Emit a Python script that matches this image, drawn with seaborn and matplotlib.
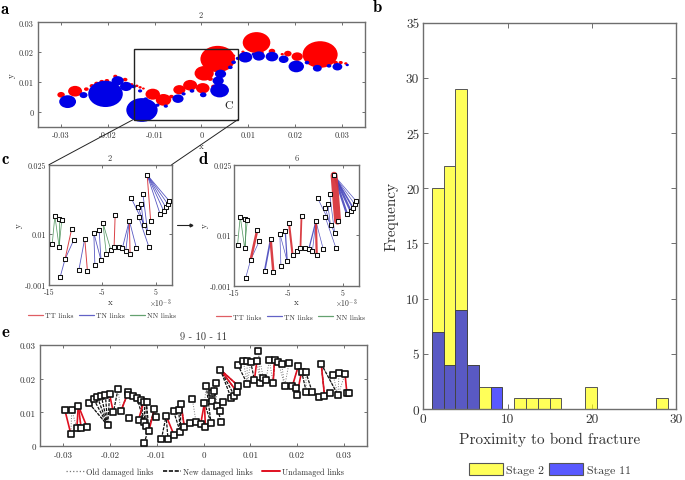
import numpy as np
import matplotlib
matplotlib.use("Agg")
import matplotlib.pyplot as plt
import seaborn as sns
from matplotlib.lines import Line2D
from matplotlib.patches import Ellipse, Rectangle, Patch

# ---------- panel a: bubbles (x, y, width; all in units of 1e-3) ----------
red_x = [-30.0,-27.0,-24.6,-23.4,-22.4,-21.3,-20.2,-18.4,-17.4,-16.3,-14.9,-13.8,-13.1,-12.4,-10.4,-8.1,-6.4,-4.7,-2.4,0.3,0.6,3.5,11.8,8.9,13.0,15.1,17.3,18.5,20.5,25.4,28.7,29.8,30.9,6.9,2.6,1.9]
red_y = [5.7,6.9,7.6,8.7,9.5,10.1,10.4,11.9,10.9,10.8,9.2,8.7,8.2,7.8,5.9,4.0,5.1,7.4,8.9,7.9,12.9,17.7,23.2,20.1,19.9,20.3,19.3,19.5,18.5,19.2,16.5,16.5,16.2,18.8,8.5,11.0]
red_w = [1.6,3.0,1.0,1.0,1.0,1.0,1.0,.9,.9,1.0,.7,.7,.7,.6,3.1,3.3,1.0,2.6,3.0,2.9,4.1,7.4,5.9,.7,.7,1.4,.7,1.6,2.4,7.5,1.0,.9,.7,.7,1.0,1.1]
blue_x = [-28.6,-25.2,-20.5,-17.9,-16.1,-14.5,-12.7,-11.9,-9.4,-7.6,-5.0,-2.0,0.4,3.9,3.6,4.1,6.2,6.9,7.8,9.4,12.3,15.1,17.6,20.3,24.8,29.1,31.2,27.3,22.6,-3.8,-13.1,11.2]
blue_y = [3.4,5.6,6.0,10.4,8.5,8.5,0.6,4.3,2.2,1.9,4.4,7.0,5.7,7.2,10.4,12.7,14.9,16.6,17.9,18.3,18.7,18.5,17.6,15.2,14.6,15.1,15.7,15.4,16.5,6.0,7.0,19.3]
blue_w = [3.6,1.7,7.4,2.6,2.6,1.0,6.7,.9,.9,.9,2.4,1.0,1.4,4.0,2.4,2.4,1.0,1.0,.9,3.0,2.6,2.7,2.1,3.3,1.9,2.1,.7,1.0,1.0,.9,.9,.9]

# ---------- panels c, d: nodes (1e-3) ----------
node_x = [-14.4,-13.9,-13.1,-13.1,-12.6,-12.9,-12.0,-10.75,-10.4,-9.4,-8.3,-7.8,-6.4,-6.6,-5.6,-5.25,-4.9,-4.25,-3.4,-2.8,-2.6,-1.9,-1.25,-0.6,0.2,0.05,1.4,0.4,1.75,2.25,1.8,2.75,2.6,3.5,3.75,4.05,3.4,5.8,6.5,6.9,7.25,7.5]
node_y = [7.8,13.9,13.3,7.2,13.1,0.7,4.5,11.1,8.6,2.2,9.0,2.0,3.3,10.2,10.8,4.3,12.4,5.6,6.5,7.1,14.1,7.2,6.9,6.4,5.7,12.9,6.9,17.8,15.8,16.5,13.7,12.0,18.7,10.4,7.1,12.9,22.8,14.4,15.0,15.75,16.5,17.2]
c_tt = [(7,6),(10,11),(20,19),(25,24),(36,35)]
c_tn = [(5,6),(8,6),(9,10),(12,13),(14,15),(13,15),(25,22),(25,23),(25,26),(27,33),(28,31),(29,31),(30,34),(32,33),(36,37),(36,38),(36,39),(36,40),(36,41)]
c_nn = [(0,1),(3,2),(3,4),(1,3),(16,17),(16,18)]
d_tt = [(7,6),(10,11),(20,19),(25,24),(36,35),(16,17)]
d_tt_w = [1.8,1.8,1.3,1.6,5.0,1.5]
d_tn = [(5,6),(8,6),(9,10),(12,13),(14,15),(13,15),(25,22),(25,23),(25,26),(27,33),(28,31),(29,31),(30,34),(32,33),(36,37),(36,38),(36,39),(36,40),(36,41)]
d_tn_w = [.5,.5,1.2,.5,.9,.5,.9,.5,.5,.5,.5,.5,.5,.5,1.6,1.6,1.2,.5,.5]
d_nn = [(0,1),(3,2),(3,4),(1,3)]

# ---------- panel e: nodes (1e-3) ----------
e_x = [-29.7,-28.2,-28.4,-27.1,-26.8,-26.2,-24.9,-24.5,-23.5,-22.7,-21.9,-21.0,-20.1,-20.5,-19.3,-18.3,-17.7,-16.1,-16.1,-15.9,-15.1,-14.2,-13.9,-13.4,-12.8,-12.8,-12.2,-12.4,-11.7,-12.7,-10.5,-10.2,-9.0,-8.0,-7.6,-6.3,-6.4,-5.3,-5.0,-4.8,-4.1,-2.8,-2.4,-1.6,-0.6,0.4,0.2,0.6,1.6,1.9,1.9,2.3,2.7,2.8,3.6,4.1,3.6,3.8,5.9,6.6,7.2,7.4,7.3,8.5,9.4,9.3,10.1,10.9,11.4,11.7,12.2,12.8,13.4,14.1,14.9,15.2,16.0,16.7,17.4,18.3,19.0,19.7,20.0,20.3,21.0,21.9,22.0,23.3,24.7,25.2,25.9,27.1,27.7,28.8,29.0,30.3,30.7,31.1]
e_y = [10.8,10.6,3.6,5.3,12.0,5.4,5.5,12.7,13.9,14.5,15.0,15.2,15.3,6.1,10.0,16.9,10.3,16.1,15.1,8.4,15.0,14.3,7.8,13.7,13.2,7.2,13.1,6.0,4.5,0.8,11.0,8.5,2.1,9.0,2.0,3.2,10.3,10.7,4.3,12.4,5.6,6.7,14.1,7.1,6.5,5.7,12.8,17.8,6.9,15.8,13.5,16.4,18.6,12.0,22.7,13.0,10.3,7.1,14.3,15.0,16.0,17.9,24.2,25.3,18.4,25.3,25.0,19.6,25.1,28.3,18.6,20.2,19.7,25.6,18.6,25.5,24.9,24.4,17.9,24.6,17.7,17.1,15.2,23.8,22.1,22.0,16.1,15.9,14.7,24.4,15.0,15.6,21.2,15.1,21.6,21.4,15.6,15.7]
e_old = [(1,2),(1,3),(4,3),(4,5),(7,13),(15,16),(42,43),(46,47),(49,50),(52,53),(55,60),(63,64),(64,65),(66,64),(68,70),(69,70),(69,71),(73,72),(73,74),(76,78),(77,78),(79,78),(89,93),(94,93),(95,93),(85,86),(83,80),(92,93)]
e_new = [(7,13),(8,13),(9,13),(10,13),(11,13),(12,13),(15,14),(17,16),(21,25),(23,25),(24,25),(26,27),(26,28),(29,30),(30,31),(32,33),(33,34),(36,38),(37,38),(39,38),(39,40),(46,48),(47,48),(53,57),(52,49),(54,58),(54,59),(54,60),(54,61),(62,64),(66,67),(75,74),(89,90),(89,93),(84,86),(85,87)]
e_red = [(0,2),(4,3),(4,5),(4,6),(12,14),(17,16),(20,18),(24,22),(30,28),(33,35),(39,40),(46,44),(46,45),(54,60),(54,61),(68,67),(75,74),(83,80),(84,82),(89,90),(95,96)]

# ---------- panel b: histogram ----------
bin_edges = [1.0,2.4,3.8,5.2,6.6,8.0,9.4,10.8,12.2,13.6,15.0,16.4,17.8,19.2,20.6,22.0,23.4,24.8,26.2,27.6,29.0]
stage2 = [20,22,29,4,2,0,0,1,1,1,1,0,0,2,0,0,0,0,0,1]
stage11 = [7,4,9,4,0,2,0,0,0,0,0,0,0,0,0,0,0,0,0,0]
bin_mid = [(a + b) / 2 for a, b in zip(bin_edges[:-1], bin_edges[1:])]

W, H = 685, 481
sns.set_theme(style="white")
plt.rcParams["font.family"] = ["cmr10", "DejaVu Serif"]
plt.rcParams["axes.unicode_minus"] = False
plt.rcParams["mathtext.fontset"] = "cm"
TXT = "#333333"
GREY = "#6e6e6e"
TT, TN, NN = "#d8363c", "#3b3bb8", "#3d8a4c"

fig = plt.figure(figsize=(W / 100, H / 100), dpi=100)


def new_ax(l, t, r, b):
    return fig.add_axes([l / W, 1 - b / H, (r - l) / W, (b - t) / H])


def style(ax, xt, xl, yt, yl, size, ticklen=2, pad=3):
    ax.set_xticks(xt, xl)
    ax.set_yticks(yt, yl)
    ax.tick_params(direction="in", top=True, right=True, bottom=True, left=True,
                   length=ticklen, width=0.7, color=GREY, labelsize=size,
                   labelcolor=TXT, pad=pad)
    for s in ax.spines.values():
        s.set_color(GREY)
        s.set_linewidth(1.0)
        s.set_visible(True)


def ftext(x, y, s, **kw):
    fig.text(x / W, 1 - y / H, s, **kw)


def links(ax, pairs, xs, ys, color, widths=0.6, ls="-", alpha=1.0, z=2):
    if np.isscalar(widths):
        widths = [widths] * len(pairs)
    for (i, j), w in zip(pairs, widths):
        ax.plot([xs[i], xs[j]], [ys[i], ys[j]], color=color, lw=w, ls=ls, alpha=alpha, zorder=z)


# ---------- a ----------
ax = new_ax(37.7, 23.3, 365, 127.7)
k = 1.19
for xs, ys, ws, col in [(red_x, red_y, red_w, "#ff0000"), (blue_x, blue_y, blue_w, "#0000e6")]:
    for x, y, w in zip(xs, ys, ws):
        ax.add_patch(Ellipse((x / 1e3, y / 1e3), w / 1e3, w * k / 1e3, fc=col, ec="none"))
ax.set_xlim(-0.035, 0.035)
ax.set_ylim(-0.005, 0.03)
style(ax, [-.03, -.02, -.01, 0, .01, .02, .03], ["-0.03", "-0.02", "-0.01", "0", "0.01", "0.02", "0.03"],
      [0, .01, .02, .03], ["0", "0.01", "0.02", "0.03"], 6)
ax.add_patch(Rectangle((-0.0145, -0.0027), 0.0224, 0.0239, fc="none", ec="#222222", lw=1.0, zorder=5))
ax.text(0.0059, 0.0023, "C", fontsize=8.5, color="#222222", ha="center", va="center")
ftext(201, 16, "2", fontsize=6, ha="center", va="center", color=TXT)
ftext(201, 147, "x", fontsize=6.5, ha="center", va="center", color=TXT)
ftext(12, 76, "y", fontsize=6.5, ha="center", va="center", color=TXT, rotation=90)

# connectors
for (x0, y0), (x1, y1) in [((133, 120.7), (49, 165.7)), ((237.7, 120.7), (171.7, 165.7))]:
    fig.add_artist(Line2D([x0 / W, x1 / W], [1 - y0 / H, 1 - y1 / H], color="#222222", lw=0.7))


# ---------- c, d ----------
def small_panel(box, title, tx, tt, tn, nn, tt_w, tn_w, xlab_x, legend_x):
    ax = new_ax(*box)
    links(ax, nn, nx, ny, NN, 0.55, alpha=0.85)
    links(ax, tn, nx, ny, TN, tn_w, alpha=0.85)
    links(ax, tt, nx, ny, TT, tt_w, alpha=0.95)
    sns.scatterplot(x=nx, y=ny, marker="s", s=7, color="white", edgecolor="#111111",
                    linewidth=0.75, ax=ax, zorder=4, clip_on=False)
    ax.set_xlim(-0.015, 0.008)
    ax.set_ylim(-0.001, 0.025)
    style(ax, [-.015, -.005, .005], ["-15", "-5", "5"], [-.001, .01, .025], ["-0.001", "0.01", "0.025"], 5.8, pad=2)
    ftext(tx, 158.5, title, fontsize=6, ha="center", va="center", color=TXT)
    ftext(xlab_x, 303, "x", fontsize=6.5, ha="center", va="center", color=TXT)
    ftext(xlab_x + 50, 303.5, r"$\times 10^{-3}$", fontsize=5.5, ha="center", va="center", color=TXT)
    ftext(box[0] - 30, 226, "y", fontsize=6.5, ha="center", va="center", color=TXT, rotation=90)
    hs = [Line2D([], [], color=c, lw=0.9, alpha=0.8) for c in (TT, TN, NN)]
    ax.legend(hs, ["TT links", "TN links", "NN links"], loc="center", ncol=3, frameon=False,
              bbox_to_anchor=((legend_x) / (box[2] - box[0]), -0.255), fontsize=5.4, labelcolor=TXT,
              handlelength=2.0, handletextpad=0.3, columnspacing=0.7)
    return ax


nx = [v / 1e3 for v in node_x]
ny = [v / 1e3 for v in node_y]
small_panel((49, 165.7, 171.7, 285.7), "2", 110, c_tt, c_tn, c_nn, 0.7, 0.6, 110, 53)
small_panel((234.3, 166, 359, 286.7), "6", 296.5, d_tt, d_tn, d_nn, d_tt_w, d_tn_w, 296, 56)

fig.add_artist(Line2D([177 / W, 191 / W], [1 - 226 / H] * 2, color="#222222", lw=0.8, marker=">",
                      markevery=[1], markersize=2))

# ---------- e ----------
ax = new_ax(40, 346, 367, 447)
ex = [v / 1e3 for v in e_x]
ey = [v / 1e3 for v in e_y]
links(ax, e_old, ex, ey, "#777777", 0.7, ":")
links(ax, e_new, ex, ey, "#111111", 0.9, (0, (2.5, 1)))
links(ax, e_red, ex, ey, "#e01020", 1.2)
sns.scatterplot(x=ex, y=ey, marker="s", s=14, color="white", edgecolor="#111111", linewidth=1.2,
                ax=ax, zorder=4, clip_on=False)
ax.set_xlim(-0.035, 0.035)
ax.set_ylim(0, 0.03)
style(ax, [-.03, -.02, -.01, 0, .01, .02, .03], ["-0.03", "-0.02", "-0.01", "0", "0.01", "0.02", "0.03"],
      [0, .01, .02, .03], ["0", "0.01", "0.02", "0.03"], 6.5)
ftext(203, 337.5, "9 - 10 - 11", fontsize=7.5, ha="center", va="center", color=TXT)
hs = [Line2D([], [], color="#777777", lw=0.9, ls=":"),
      Line2D([], [], color="#111111", lw=1.2, ls=(0, (2.5, 1))),
      Line2D([], [], color="#e01020", lw=1.4)]
ax.legend(hs, ["Old damaged links", "New damaged links", "Undamaged links"], loc="center", ncol=3,
          frameon=False, bbox_to_anchor=(0.505, -0.255), fontsize=5.9, labelcolor=TXT,
          handlelength=2.2, handletextpad=0.3, columnspacing=1.1)

# ---------- b ----------
ax = new_ax(423.3, 23.7, 676, 410)
YEL, BLU = (1, 1, 0, 0.65), (0, 0, 1, 0.65)
sns.histplot(x=bin_mid, weights=stage2, bins=bin_edges, color=YEL[:3], alpha=0.65,
             edgecolor="#555555", linewidth=0.7, ax=ax)
sns.histplot(x=bin_mid, weights=stage11, bins=bin_edges, color=BLU[:3], alpha=0.65,
             edgecolor="#444444", linewidth=0.7, ax=ax)
ax.set_xlim(0, 30)
ax.set_ylim(0, 35)
style(ax, [0, 10, 20, 30], ["0", "10", "20", "30"], list(range(0, 36, 5)),
      [str(v) for v in range(0, 36, 5)], 9.6, ticklen=3.5)
ax.set_xlabel("Proximity to bond fracture", fontsize=11, color=TXT, labelpad=5)
ax.set_ylabel("Frequency", fontsize=11, color=TXT, labelpad=5)
hs = [Patch(fc=YEL, ec="#555555", lw=0.8), Patch(fc=BLU, ec="#555555", lw=0.8)]
ax.legend(hs, ["Stage 2", "Stage 11"], loc="center", ncol=2, frameon=False,
          bbox_to_anchor=(0.5, -0.155), fontsize=8.5, labelcolor=TXT, handlelength=2.9,
          handleheight=1.15, handletextpad=0.3, columnspacing=0.4, borderpad=0)

# ---------- panel letters ----------
for x, y, s in [(5, 9, "a"), (377, 8, "b"), (5, 160, "c"), (203, 159, "d"), (5, 333, "e")]:
    ftext(x, y, s, fontsize=12, family=["cmb10", "DejaVu Serif"], ha="center", va="center", color="black")

fig.savefig("out.png", dpi=100)
